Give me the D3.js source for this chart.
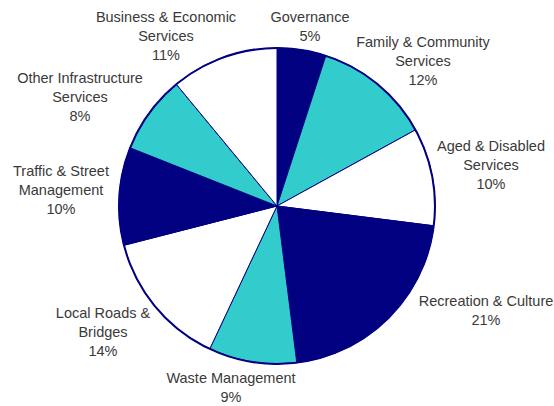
<!DOCTYPE html>
<html>
<head>
<meta charset="utf-8">
<script src="https://cdn.jsdelivr.net/npm/d3@7"></script>
<style>
  html, body { margin: 0; padding: 0; background: #fff; }
  svg { display: block; }
  text { font-family: "Liberation Sans", Arial, Helvetica, sans-serif; }
</style>
</head>
<body>
<svg id="chart" width="554" height="406"></svg>
<script>
// Expenditure share by service area (percent), clockwise from 12 o'clock
const categories = [
  "Governance",
  "Family & Community Services",
  "Aged & Disabled Services",
  "Recreation & Culture",
  "Waste Management",
  "Local Roads & Bridges",
  "Traffic & Street Management",
  "Other Infrastructure Services",
  "Business & Economic Services"
];
const values = [5, 12, 10, 21, 9, 14, 10, 8, 11];

// Label text broken into lines as displayed
const labelLines = [
  ["Governance"],
  ["Family & Community", "Services"],
  ["Aged & Disabled", "Services"],
  ["Recreation & Culture"],
  ["Waste Management"],
  ["Local Roads &", "Bridges"],
  ["Traffic & Street", "Management"],
  ["Other Infrastructure", "Services"],
  ["Business & Economic", "Services"]
];

// Label anchor points (centre x, first-line baseline y)
const labelPos = [
  [310, 22], [423, 47], [491, 151], [486, 306], [231, 383],
  [103, 318], [61, 176], [80, 83], [166, 22]
];

const fillCycle = ["#000080", "#33CCCC", "#FFFFFF"];

const svg = d3.select("#chart");
const cx = 277, cy = 206, r = 158;

const pie = d3.pie().sort(null).value(d => d)(values);
const arc = d3.arc().innerRadius(0).outerRadius(r);
const color = d3.scaleOrdinal().domain(d3.range(values.length)).range(fillCycle);

const g = svg.append("g").attr("transform", `translate(${cx},${cy})`);

g.selectAll("path.slice")
  .data(pie)
  .join("path")
  .attr("class", "slice")
  .attr("d", arc)
  .attr("fill", (d, i) => color(i))
  .attr("stroke", "#000080")
  .attr("stroke-width", 1);

// Outer rim
g.append("circle")
  .attr("r", r)
  .attr("fill", "none")
  .attr("stroke", "#000080")
  .attr("stroke-width", 2);

// Labels
const lh = 19;
const labels = svg.selectAll("text.lbl")
  .data(pie)
  .join("text")
  .attr("class", "lbl")
  .attr("text-anchor", "middle")
  .attr("font-size", 14.5)
  .attr("fill", "#3a3a3a");

labels.each(function(d, i) {
  const t = d3.select(this);
  const [x, y] = labelPos[i];
  const lines = labelLines[i].concat([d.value + "%"]);
  lines.forEach((s, k) => {
    t.append("tspan").attr("x", x).attr("y", y + k * lh).text(s);
  });
});
</script>
</body>
</html>
